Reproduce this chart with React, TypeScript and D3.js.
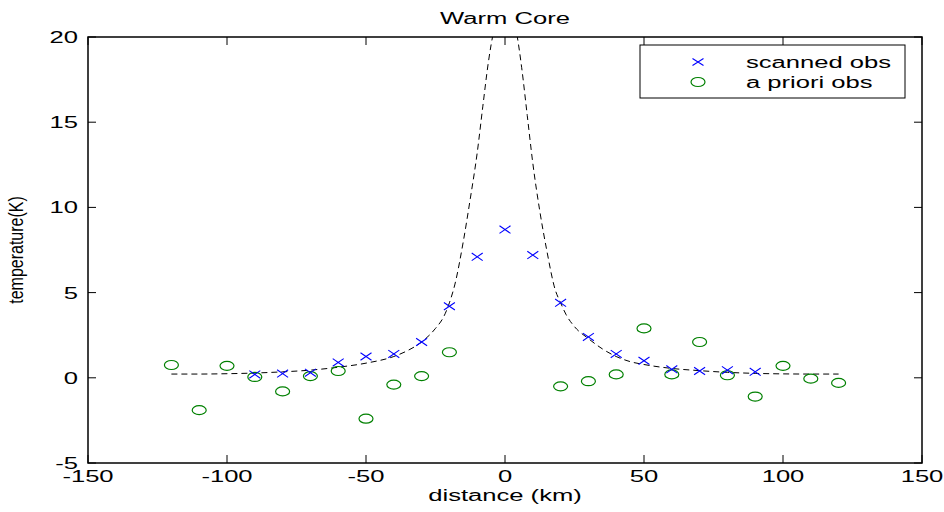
import React from 'react';
import * as d3 from 'd3';

// scanned observations (blue x)
const scanDist = [-90, -80, -70, -60, -50, -40, -30, -20, -10, 0, 10, 20, 30, 40, 50, 60, 70, 80, 90];
const scanTemp = [0.2, 0.25, 0.3, 0.9, 1.25, 1.4, 2.1, 4.2, 7.1, 8.7, 7.2, 4.4, 2.4, 1.4, 1.0, 0.5, 0.4, 0.45, 0.35];

// a priori observations (green o)
const aprDist = [-120, -110, -100, -90, -80, -70, -60, -50, -40, -30, -20, 20, 30, 40, 50, 60, 70, 80, 90, 100, 110, 120];
const aprTemp = [0.75, -1.9, 0.7, 0.05, -0.8, 0.1, 0.4, -2.4, -0.4, 0.1, 1.5, -0.5, -0.2, 0.2, 2.9, 0.2, 2.1, 0.15, -1.1, 0.7, -0.05, -0.3];

// true warm core profile (dashed)
const trueDist = [-120, -110, -100, -90, -80, -70, -60, -50, -40, -35, -30, -25, -22, -20, -18, -15, -12.5, -10, -8, -6, -4, -2, 0,
  2, 4, 6, 8, 10, 12.5, 15, 18, 20, 22, 25, 30, 35, 40, 45, 50, 60, 70, 80, 90, 100, 110, 120];
const trueTemp = [0.22, 0.22, 0.24, 0.28, 0.35, 0.45, 0.62, 0.86, 1.25, 1.6, 2.1, 2.9, 3.6, 4.4, 5.5, 8.0, 10.5, 13.2, 15.9, 18.5, 20.4, 21.5, 21.8,
  21.5, 20.4, 18.2, 15.4, 12.6, 9.8, 7.5, 5.2, 4.4, 3.7, 3.0, 2.3, 1.7, 1.25, 0.95, 0.78, 0.55, 0.42, 0.32, 0.26, 0.23, 0.22, 0.22];

const xTicks = [-150, -100, -50, 0, 50, 100, 150];
const yTicks = [-5, 0, 5, 10, 15, 20];

const W = 944;
const H = 512;
const SX = 1.6; // the picture is stretched sideways
const FONT = 'Liberation Sans, Arial, sans-serif';

function T({ x, y, anchor = 'middle', size = 16, rotate = 0, sx = SX, children }: any) {
  return (
    <text
      transform={`translate(${x},${y}) scale(${sx},1) rotate(${rotate})`}
      textAnchor={anchor}
      fontFamily={FONT}
      fontSize={size}
      fill="#000"
    >
      {children}
    </text>
  );
}

export default function App() {
  const x = d3.scaleLinear().domain([-150, 150]).range([88, 922]);
  const y = d3.scaleLinear().domain([-5, 20]).range([463, 37]);
  const [x0, x1] = x.range();
  const [y0, y1] = y.range();

  const line = d3.line<number>()
    .x((d, i) => x(trueDist[i]))
    .y(d => y(d))
    .curve(d3.curveMonotoneX);

  const tk = 8;

  return (
    <svg width={W} height={H} style={{ position: 'absolute', left: 0, top: 0, background: '#fff' }}>
      <defs>
        <clipPath id="plot">
          <rect x={x0} y={y1} width={x1 - x0} height={y0 - y1} />
        </clipPath>
      </defs>

      {/* title */}
      <T x={(x0 + x1) / 2} y={24}>Warm Core</T>

      {/* dashed profile */}
      <path d={line(trueTemp) || ''} fill="none" stroke="#000" strokeWidth={1} strokeDasharray="6,4" clipPath="url(#plot)" />

      {/* a priori circles */}
      {aprDist.map((d, i) => (
        <ellipse key={'a' + i} cx={x(d)} cy={y(aprTemp[i])} rx={7} ry={4.5} fill="none" stroke="#008000" strokeWidth={1.2} />
      ))}

      {/* scanned crosses */}
      {scanDist.map((d, i) => {
        const cx = x(d), cy = y(scanTemp[i]);
        return (
          <path key={'s' + i} d={`M${cx - 5.5},${cy - 3.8}L${cx + 5.5},${cy + 3.8}M${cx - 5.5},${cy + 3.8}L${cx + 5.5},${cy - 3.8}`}
            stroke="#0000ff" strokeWidth={1.1} fill="none" />
        );
      })}

      {/* box */}
      <rect x={x0} y={y1} width={x1 - x0} height={y0 - y1} fill="none" stroke="#000" strokeWidth={1.5} />

      {/* x ticks */}
      {xTicks.map(t => (
        <g key={'xt' + t}>
          <line x1={x(t)} x2={x(t)} y1={y0} y2={y0 - tk} stroke="#000" strokeWidth={1} />
          <line x1={x(t)} x2={x(t)} y1={y1} y2={y1 + tk} stroke="#000" strokeWidth={1} />
          <T x={x(t)} y={y0 + 19}>{t}</T>
        </g>
      ))}

      {/* y ticks */}
      {yTicks.map(t => (
        <g key={'yt' + t}>
          <line x1={x0} x2={x0 + tk} y1={y(t)} y2={y(t)} stroke="#000" strokeWidth={1} />
          <line x1={x1} x2={x1 - tk} y1={y(t)} y2={y(t)} stroke="#000" strokeWidth={1} />
          <T x={x0 - 10} y={y(t) + 6} anchor="end">{t}</T>
        </g>
      ))}

      {/* axis labels */}
      <T x={(x0 + x1) / 2} y={501}>distance (km)</T>
      <T x={23} y={y(7.5)} rotate={-90} size={16} sx={1.3}>temperature(K)</T>

      {/* legend */}
      <g>
        <rect x={640} y={45} width={265} height={53} fill="#fff" stroke="#000" strokeWidth={1} />
        <path d="M692.5,58.5L703.5,65.5M692.5,65.5L703.5,58.5" stroke="#0000ff" strokeWidth={1.1} fill="none" />
        <T x={746} y={68} anchor="start">scanned obs</T>
        <ellipse cx={698} cy={82} rx={7} ry={4.5} fill="none" stroke="#008000" strokeWidth={1.2} />
        <T x={746} y={88} anchor="start">a priori obs</T>
      </g>
    </svg>
  );
}
